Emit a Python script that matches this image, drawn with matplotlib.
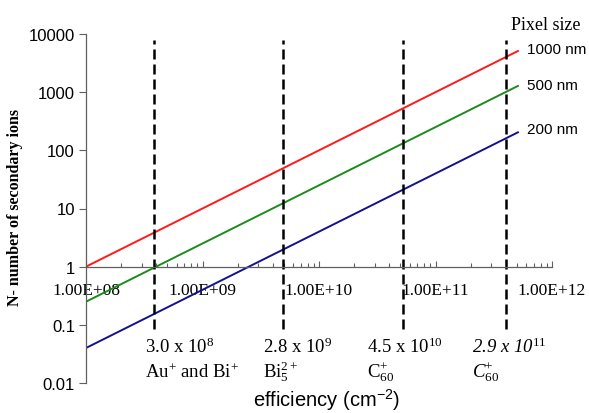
import matplotlib
matplotlib.use("Agg")
import matplotlib.pyplot as plt

plt.rcParams["mathtext.fontset"] = "custom"
plt.rcParams["mathtext.rm"] = "Liberation Serif"
plt.rcParams["mathtext.it"] = "Liberation Serif:italic"

sans = "Liberation Sans"
serif = "Liberation Serif"

# data
efficiency = [1.0e8, 5.1e11]
ions_1000 = [1.0, 5100.0]
ions_500 = [0.25, 1280.0]
ions_200 = [0.04, 204.0]

series_labels = ["1000 nm", "500 nm", "200 nm"]
series_colors = ["#ff1a1a", "#1a8c1a", "#12128f"]

beam_x = [3.85e8, 4.9e9, 5.3e10, 4.0e11]
beam_top = 8000
beam_bottom = 0.085
beam_rate = ["3.0 x 10$^{8}$", "2.8 x 10$^{9}$", "4.5 x 10$^{10}$",
             "2.9 x 10$^{\\mathit{11}}$"]
beam_ion = ["Au$^{+}$ and Bi$^{+}$", "Bi$_{5}^{2+}$", "C$_{60}^{+}$",
            "C$_{\\mathit{60}}^{+}$"]
beam_italic = [False, False, False, True]

x_ticks = [1e8, 1e9, 1e10, 1e11, 1e12]
x_ticklabels = ["1.00E+08", "1.00E+09", "1.00E+10", "1.00E+11", "1.00E+12"]
y_ticks = [0.01, 0.1, 1, 10, 100, 1000, 10000]
y_ticklabels = ["0.01", "0.1", "1", "10", "100", "1000", "10000"]

fig = plt.figure(figsize=(5.89, 4.14), dpi=100)
ax = fig.add_axes([86 / 589, 1 - 384 / 414, (552 - 86) / 589, (384 - 35) / 414])

for y, color in zip([ions_1000, ions_500, ions_200], series_colors):
    ax.plot(efficiency, y, color=color, linewidth=1.4)

for bx in beam_x:
    ax.plot([bx, bx], [beam_bottom, beam_top], color="black",
            linewidth=1.8, linestyle=(0, (4, 2)))

ax.set_xscale("log")
ax.set_yscale("log")
ax.set_xlim(1e8, 1e12)
ax.set_ylim(0.01, 10000)

for side in ["top", "right"]:
    ax.spines[side].set_visible(False)
ax.spines["bottom"].set_position(("data", 1))
for side in ["left", "bottom"]:
    ax.spines[side].set_color("#606060")
    ax.spines[side].set_linewidth(0.9)

ax.set_xticks(x_ticks)
ax.set_xticklabels(x_ticklabels, fontfamily=serif, fontsize=12.5)
ax.set_yticks(y_ticks)
ax.set_yticklabels(y_ticklabels, fontfamily=sans, fontsize=12)
ax.yaxis.set_minor_locator(matplotlib.ticker.NullLocator())

ax.tick_params(axis="x", which="both", direction="in", color="#606060",
               width=0.8, pad=11)
ax.tick_params(axis="x", which="major", length=4)
ax.tick_params(axis="x", which="minor", length=3)
ax.tick_params(axis="y", direction="out", length=5, color="#606060",
               width=0.8, pad=3)

# series labels on the right
label_y = [50, 86, 130]
for text, py in zip(series_labels, label_y):
    fig.text(527 / 589, 1 - py / 414, text, fontfamily=sans, fontsize=11,
             ha="left", va="center")
fig.text(546 / 589, 1 - 25 / 414, "Pixel size", fontfamily=serif,
         fontsize=13, ha="center", va="center")

# beam annotations
text_left = [145, 263, 367, 472]
for px, rate, ion, italic in zip(text_left, beam_rate, beam_ion, beam_italic):
    style = "italic" if italic else "normal"
    fig.text(px / 589, 1 - 353 / 414, rate, fontfamily=serif, fontsize=13.5,
             style=style, ha="left", va="baseline")
    fig.text(px / 589, 1 - 378 / 414, ion, fontfamily=serif, fontsize=13.5,
             style=style, ha="left", va="baseline")

fig.text(327 / 589, 1 - 400 / 414, "efficiency (cm$^{\\mathregular{-2}}$)",
         fontfamily=sans, fontsize=14.5, ha="center", va="center")
fig.text(15 / 589, 1 - 208 / 414, "N- number of secondary ions",
         fontfamily=serif, fontweight="bold", fontsize=11.5, rotation=90,
         ha="center", va="center")

fig.savefig("out.png", dpi=100)
